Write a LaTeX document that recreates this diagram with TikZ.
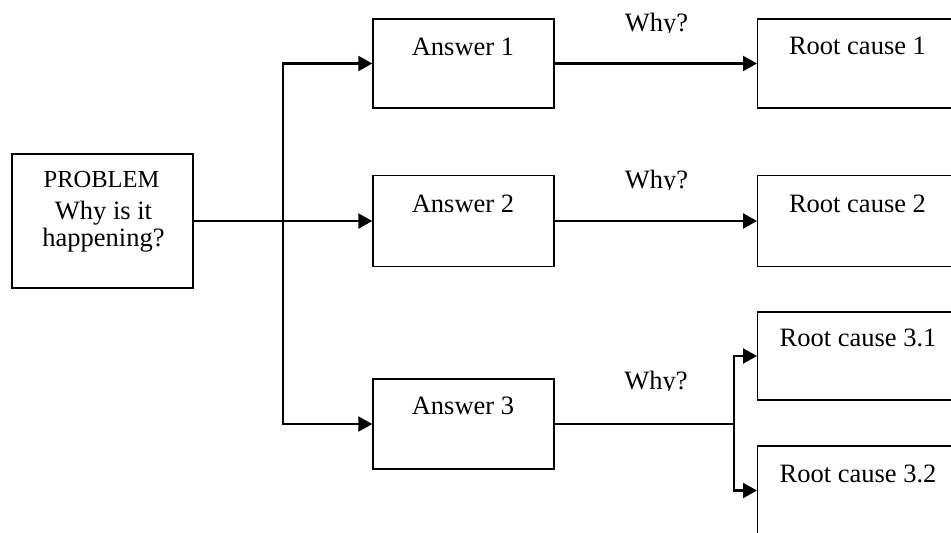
\documentclass[tikz,border=0pt]{standalone}
\usepackage{fontspec}
\setmainfont{Liberation Serif}
\usetikzlibrary{arrows.meta}
\begin{document}
\begin{tikzpicture}[x=1pt,y=-1pt,
  box/.style={draw, line width=1.4pt, inner sep=0pt, minimum width=181pt, minimum height=89pt},
  rbox/.style={draw, line width=1.4pt, inner sep=0pt, minimum width=260pt, minimum height=89pt, anchor=west},
  txt/.style={font=\fontsize{26.5}{30}\selectfont, inner sep=0pt, anchor=base},
  conn/.style={line width=2.2pt, -{Triangle[length=14pt,width=15pt]}},
  thin/.style={line width=1.4pt},
]
\clip (0,0) rectangle (951,533);
% boxes
\node[box, minimum height=134pt] (prob) at (102.5,221) {};
\node[box] (a1) at (463.5,63.5) {};
\node[box, minimum height=91pt] (a2) at (463.5,221) {};
\node[box, minimum height=90pt] (a3) at (463.5,424) {};
\node[rbox] (r1) at (757,63.5) {};
\node[rbox, minimum height=91pt] (r2) at (757,221) {};
\node[rbox, minimum height=88pt] (r31) at (757,356) {};
\node[rbox] (r32) at (757,490.5) {};
% texts
\node[txt, font=\fontsize{24.5}{28}\selectfont] (tp1) at (101.5,187) {PROBLEM};
\node[txt] (tp2) at (103.5,219) {Why is it};
\node[txt] (tp3) at (103.5,246) {happening?};
\node[txt] (ta1) at (463,55) {Answer 1};
\node[txt] (ta2) at (463,212) {Answer 2};
\node[txt] (ta3) at (463,414) {Answer 3};
\node[txt] (tr1) at (857.5,54.5) {Root cause 1};
\node[txt] (tr2) at (857.5,212) {Root cause 2};
\node[txt] (tr31) at (858,346) {Root cause 3.1};
\node[txt] (tr32) at (858,482) {Root cause 3.2};
\begin{scope}
\clip (600,0) rectangle (720,32);
\node[txt] (w1) at (656.5,31) {Why?};
\end{scope}
\begin{scope}
\clip (600,150) rectangle (720,189);
\node[txt] (w2) at (656.5,188) {Why?};
\end{scope}
\begin{scope}
\clip (600,350) rectangle (720,390);
\node[txt] (w3) at (656,389) {Why?};
\end{scope}
% connectors
\coordinate (tk) at (283,221);
\coordinate (br) at (734,424);
\draw[conn] (prob.east) -- (a2.west);
\draw[conn] (tk) |- (a1.west);
\draw[conn] (tk) |- (a3.west);
\draw[conn] (a1.east) -- (r1.west);
\draw[conn] (a2.east) -- (r2.west);
\draw[thin] (a3.east) -- (br);
\draw[conn] (br) |- (r31.west);
\draw[conn] (br) |- (r32.west);
\end{tikzpicture}
\end{document}
